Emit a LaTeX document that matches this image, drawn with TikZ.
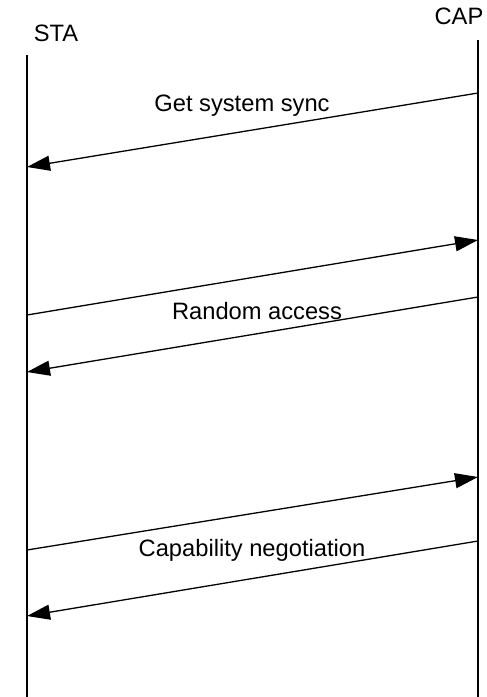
\documentclass[tikz,border=0pt]{standalone}
\usepackage{fontspec}
\setmainfont{Liberation Sans}
\usetikzlibrary{arrows.meta}

\begin{document}
\begin{tikzpicture}[x=0.5pt,y=-0.5pt,line width=0.65pt,
    msg/.style={-{Triangle[length=11.5pt,width=7.5pt]}},
    lbl/.style={inner sep=0pt,font=\fontsize{11.85}{14}\selectfont}]
    \useasboundingbox (0,0) rectangle (487,697);
    % stations
    \node[lbl] (sta) at (56,33) {STA};
    \node[lbl] (cap) at (459,16) {CAP};
    \coordinate (staTop) at (27,55);
    \coordinate (staBot) at (27,697);
    \coordinate (capTop) at (478,40);
    \coordinate (capBot) at (478,697);
    \draw (staTop) -- (staBot);
    \draw (capTop) -- (capBot);
    % message ends
    \coordinate (c1) at (478,93);  \coordinate (s1) at (27,167);
    \coordinate (s2) at (27,315);  \coordinate (c2) at (478,240);
    \coordinate (c3) at (478,297); \coordinate (s3) at (27,372);
    \coordinate (s4) at (27,550);  \coordinate (c4) at (478,477);
    \coordinate (c5) at (478,541); \coordinate (s5) at (27,616);
    \draw[msg] (c1) -- (s1);
    \draw[msg] (s2) -- (c2);
    \draw[msg] (c3) -- (s3);
    \draw[msg] (s4) -- (c4);
    \draw[msg] (c5) -- (s5);
    % labels
    \node[lbl] (sync) at (242,106) {Get system sync};
    \node[lbl] (ra) at (257,311) {Random access};
    \node[lbl] (capneg) at (252,550) {Capability negotiation};
\end{tikzpicture}
\end{document}
